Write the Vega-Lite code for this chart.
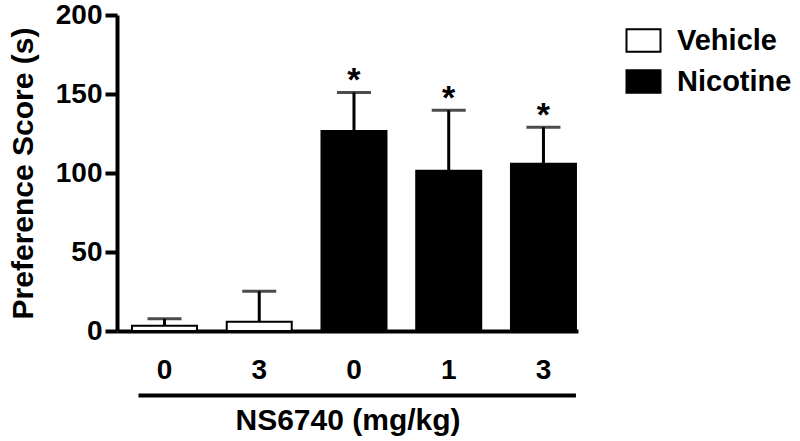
{
  "$schema": "https://vega.github.io/schema/vega-lite/v6.json",
  "autosize": "none",
  "width": 461,
  "height": 316,
  "padding": {"left": 117, "top": 15, "right": 222, "bottom": 110},
  "background": "white",
  "config": {
    "view": {"stroke": null},
    "font": "Liberation Sans"
  },
  "data": {
    "values": [
      {"key": "V0", "group": "Vehicle", "dose": "0", "mean": 3.4, "upper": 7.8, "sig": ""},
      {"key": "V3", "group": "Vehicle", "dose": "3", "mean": 5.8, "upper": 25.1, "sig": ""},
      {"key": "N0", "group": "Nicotine", "dose": "0", "mean": 126.6, "upper": 151, "sig": "*"},
      {"key": "N1", "group": "Nicotine", "dose": "1", "mean": 101.5, "upper": 139.7, "sig": "*"},
      {"key": "N3", "group": "Nicotine", "dose": "3", "mean": 105.9, "upper": 129, "sig": "*"}
    ]
  },
  "encoding": {
    "x": {
      "field": "key",
      "type": "nominal",
      "sort": ["V0", "V3", "N0", "N1", "N3"],
      "scale": {"paddingInner": 0.314, "paddingOuter": 0.09, "align": 0.88},
      "axis": {
        "title": "NS6740 (mg/kg)",
        "labelExpr": "substring(datum.value, 1)",
        "labelAngle": 0,
        "labelFont": "Liberation Sans",
        "labelFontSize": 28,
        "labelFontWeight": "bold",
        "labelColor": "black",
        "labelPadding": 25,
        "ticks": false,
        "domainColor": "black",
        "domainWidth": 4,
        "titleFont": "Liberation Sans",
        "titleFontSize": 30,
        "titleFontWeight": "bold",
        "titleColor": "black",
        "titlePadding": 21
      }
    }
  },
  "layer": [
    {
      "mark": {"type": "rule", "strokeWidth": 3, "color": "black"},
      "encoding": {
        "y": {"field": "mean", "type": "quantitative"},
        "y2": {"field": "upper"}
      }
    },
    {
      "mark": {"type": "tick", "size": 34, "thickness": 3, "color": "black", "orient": "horizontal"},
      "encoding": {
        "y": {"field": "upper", "type": "quantitative"}
      }
    },
    {
      "mark": {"type": "bar", "stroke": "black", "strokeWidth": 2},
      "encoding": {
        "y": {
          "field": "mean",
          "type": "quantitative",
          "scale": {"domain": [0, 200]},
          "axis": {
            "title": "Preference Score (s)",
            "values": [0, 50, 100, 150, 200],
            "grid": false,
            "labelFont": "Liberation Sans",
            "labelFontSize": 28,
            "labelFontWeight": "bold",
            "labelColor": "black",
            "labelPadding": 3,
            "tickSize": 12,
            "tickWidth": 4,
            "tickColor": "black",
            "domainColor": "black",
            "domainWidth": 4,
            "titleFont": "Liberation Sans",
            "titleFontSize": 30,
            "titleFontWeight": "bold",
            "titleColor": "black",
            "titlePadding": 17
          }
        },
        "fill": {
          "field": "group",
          "type": "nominal",
          "scale": {"domain": ["Vehicle", "Nicotine"], "range": ["white", "black"]},
          "legend": {
            "title": null,
            "orient": "none",
            "legendX": 512,
            "legendY": 11,
            "padding": 0,
            "symbolType": "M-1.5,-1H1.5V1H-1.5Z",
            "symbolSize": 514,
            "symbolStrokeColor": "black",
            "symbolStrokeWidth": 2,
            "labelFont": "Liberation Sans",
            "labelFontSize": 29,
            "labelFontWeight": "bold",
            "labelColor": "black",
            "labelOffset": 19,
            "rowPadding": 10
          }
        }
      }
    },
    {
      "mark": {"type": "text", "fontSize": 34, "fontWeight": "bold", "baseline": "alphabetic", "dy": -1, "color": "black", "font": "Liberation Sans"},
      "encoding": {
        "y": {"field": "upper", "type": "quantitative"},
        "text": {"field": "sig"}
      }
    },
    {
      "data": {"values": [{"bottom": -40.9}]},
      "mark": {"type": "rule", "strokeWidth": 4, "color": "black", "clip": false},
      "encoding": {
        "x": {"datum": "V0", "bandPosition": 0.1},
        "x2": {"datum": "N3", "bandPosition": 1},
        "y": {"field": "bottom", "type": "quantitative"}
      }
    }
  ]
}
